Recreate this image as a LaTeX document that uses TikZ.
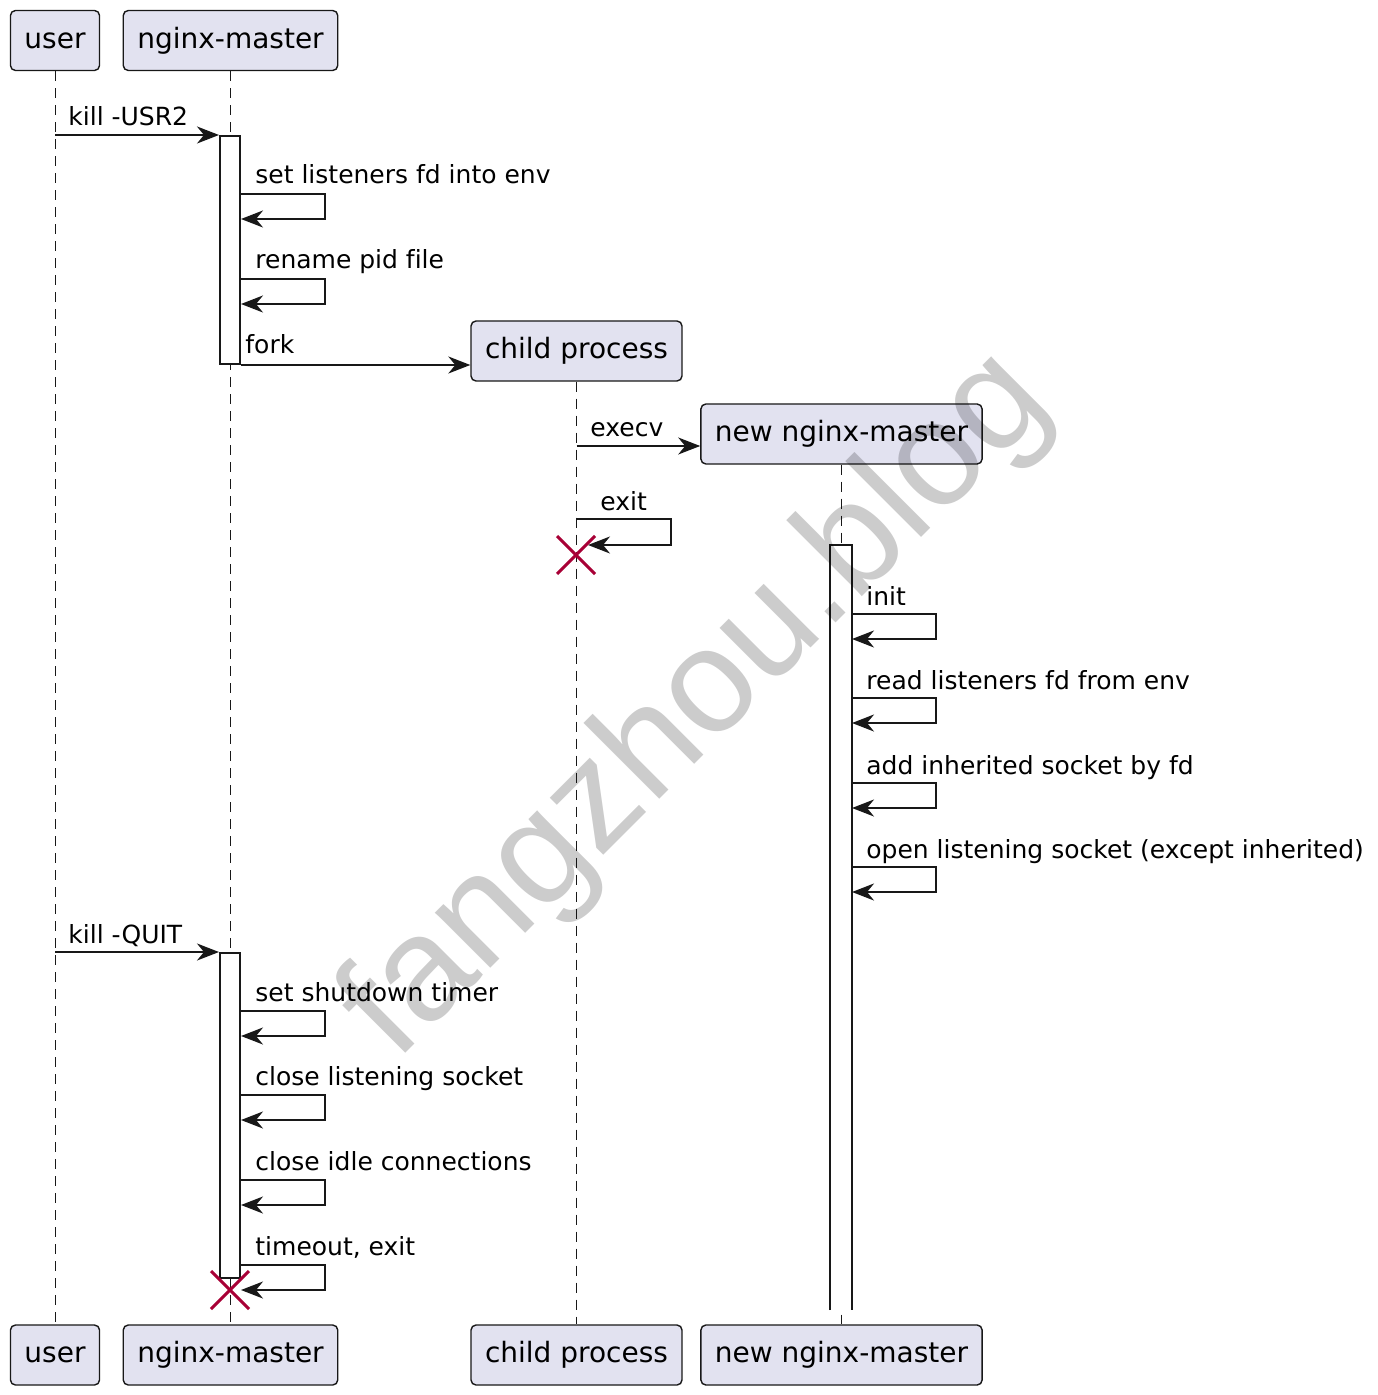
\documentclass[tikz,border=0pt]{standalone}
\usepackage{fontspec}
\setmainfont[Ligatures={TeX,NoCommon}]{DejaVu Sans}
\newfontfamily\wmfont{Liberation Sans}
\usetikzlibrary{arrows.meta}
\definecolor{partfill}{HTML}{E2E2F0}
\definecolor{linecol}{HTML}{181818}
\definecolor{xred}{HTML}{A80036}

\begin{document}
\begin{tikzpicture}[x=0.5pt, y=-0.5pt,
  part/.style={draw=linecol, fill=partfill, rounded corners=2.5pt, line width=0.7pt,
    minimum height=30pt, inner xsep=7pt, font=\fontsize{14}{16}\selectfont},
  life/.style={draw=linecol, line width=0.5pt, dash pattern=on 5pt off 3.5pt},
  act/.style={draw=linecol, fill=white, line width=1pt, minimum width=10pt, inner sep=0pt, anchor=north},
  msg/.style={draw=linecol, line width=1pt, -{Stealth[length=11pt,width=8.5pt,inset=3.5pt]}},
  lbl/.style={anchor=base west, inner sep=0pt, font=\fontsize{12.5}{15}\selectfont},
  kill/.style={draw=xred, line width=1.5pt},
  wm/.style={anchor=base, rotate=45, inner sep=0pt, text=black, text opacity=0.2,
    font=\wmfont\fontsize{74}{80}\selectfont}]
\fill[white] (0,0) rectangle (1377,1395);
\useasboundingbox (0,0) rectangle (1377,1395);

% 参与者
\node[part] (user) at (55,40.5) {user};
\node[part] (master) at (230.5,40.5) {nginx-master};
\node[part] (child) at (576.5,351) {child process};
\node[part] (newm) at (841.5,434) {new nginx-master};
\node[part] (userf) at (55,1355) {user};
\node[part] (masterf) at (230.5,1355) {nginx-master};
\node[part] (childf) at (576.5,1355) {child process};
\node[part] (newmf) at (841.5,1355) {new nginx-master};

% 生命线
\draw[life] (user.south) -- (userf.north);
\draw[life] (master.south) -- (masterf.north);
\draw[life] (child.south) -- (childf.north);
\draw[life] (newm.south) -- (newmf.north);

% 激活条
\node[act, minimum height=114pt] (act1) at (230,135) {};
\node[act, minimum height=162.5pt] (act2) at (230,952) {};
\node[act, draw=none, minimum height=381.5pt] (act3) at (841,545) {};
\draw[line width=1pt, linecol] (act3.south west) -- (act3.north west) -- (act3.north east) -- (act3.south east);

% kill -USR2
\draw[msg] (user |- act1.north) -- (act1.north west);
\node[lbl] (usr2) at (68,126) {kill -USR2};

\draw[msg] (act1.east |- 0,194) -- (325,194) -- (325,219) -- (act1.east |- 0,219);
\node[lbl] (setfd) at (255,184) {set listeners fd into env};
\draw[msg] (act1.east |- 0,279) -- (325,279) -- (325,304) -- (act1.east |- 0,304);
\node[lbl] (rename) at (255,269) {rename pid file};

% fork, execv
\draw[msg] (act1.south east) -- (act1.south -| child.west);
\node[lbl] (fork) at (245,354) {fork};
\draw[msg] (child |- 0,446) -- (newm.west |- 0,446);
\node[lbl] (execv) at (590,437) {execv};

% exit
\coordinate (xchild) at (576,555);
\draw[msg] (child |- 0,519) -- (671,519) -- (671,545) -- ++(-83,0);
\node[lbl] (exit) at (600,510) {exit};
\draw[kill] (xchild) +(-19,-19) -- +(19,19) +(-19,19) -- +(19,-19);

% new nginx-master
\draw[msg] (act3.east |- 0,614) -- (936,614) -- (936,639) -- (act3.east |- 0,639);
\node[lbl] (init) at (866,605) {init};
\draw[msg] (act3.east |- 0,698) -- (936,698) -- (936,723) -- (act3.east |- 0,723);
\node[lbl] (readfd) at (866,689) {read listeners fd from env};
\draw[msg] (act3.east |- 0,783) -- (936,783) -- (936,808) -- (act3.east |- 0,808);
\node[lbl] (addsock) at (866,774) {add inherited socket by fd};
\draw[msg] (act3.east |- 0,867) -- (936,867) -- (936,892) -- (act3.east |- 0,892);
\node[lbl] (opensock) at (866,858) {open listening socket (except inherited)};

% kill -QUIT
\draw[msg] (user |- act2.north) -- (act2.north west);
\node[lbl] (quit) at (68,943) {kill -QUIT};

\draw[msg] (act2.east |- 0,1011) -- (325,1011) -- (325,1036) -- (act2.east |- 0,1036);
\node[lbl] (timer) at (255,1001) {set shutdown timer};
\draw[msg] (act2.east |- 0,1095) -- (325,1095) -- (325,1120) -- (act2.east |- 0,1120);
\node[lbl] (closels) at (255,1085) {close listening socket};
\draw[msg] (act2.east |- 0,1180) -- (325,1180) -- (325,1205) -- (act2.east |- 0,1205);
\node[lbl] (closeidle) at (255,1170) {close idle connections};
\draw[msg] (act2.east |- 0,1265) -- (325,1265) -- (325,1290) -- (act2.east |- 0,1290);
\node[lbl] (timeout) at (255,1255) {timeout, exit};
\coordinate (xmaster) at (230,1290);
\draw[kill] (xmaster) +(-19,-19) -- +(19,19) +(-19,19) -- +(19,-19);

% 水印
\node[wm] (wmark) at (725,734) {fangzhou.blog};
\end{tikzpicture}
\end{document}
